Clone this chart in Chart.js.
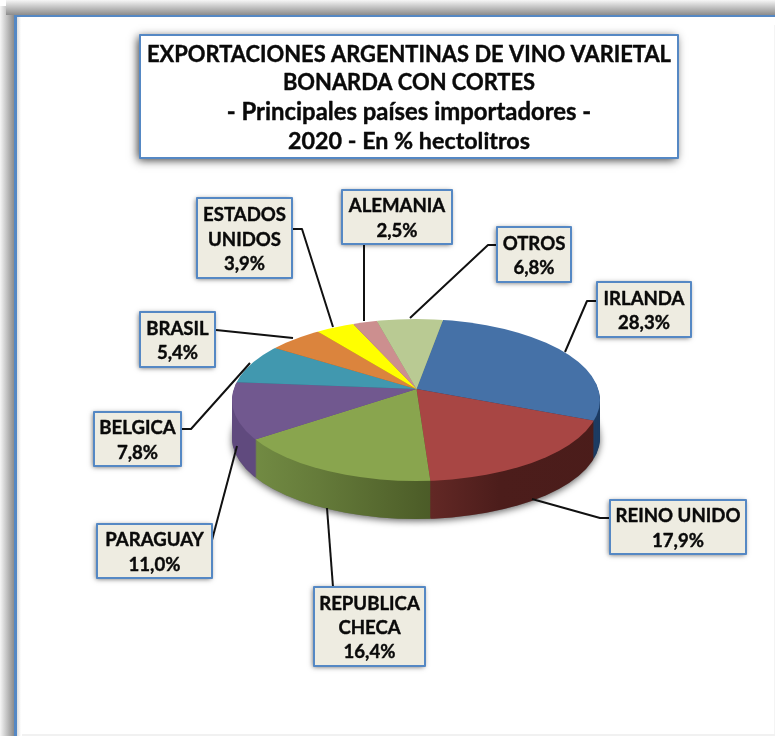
<!DOCTYPE html>
<html lang="es">
<head>
<meta charset="utf-8">
<title>Exportaciones argentinas de vino varietal Bonarda con cortes</title>
<script src="https://cdn.jsdelivr.net/npm/chart.js@4"></script>
<style>html,body{margin:0;padding:0;background:#fff}canvas{display:block}</style>
</head>
<body>
<canvas id="c" width="775" height="736"></canvas>
<script>
const titleLines = ['EXPORTACIONES ARGENTINAS DE VINO VARIETAL', 'BONARDA CON CORTES', '- Principales países importadores -', '2020 - En % hectolitros'];
const categories = ['IRLANDA', 'REINO UNIDO', 'REPUBLICA CHECA', 'PARAGUAY', 'BELGICA', 'BRASIL', 'ESTADOS UNIDOS', 'ALEMANIA', 'OTROS'];
const categoryLines = [['IRLANDA'], ['REINO UNIDO'], ['REPUBLICA', 'CHECA'], ['PARAGUAY'], ['BELGICA'], ['BRASIL'], ['ESTADOS', 'UNIDOS'], ['ALEMANIA'], ['OTROS']];
const values = [28.3, 17.9, 16.4, 11.0, 7.8, 5.4, 3.9, 2.5, 6.8];
const colors = ['#4571A7', '#A84644', '#89A54E', '#71588F', '#4198AF', '#DB843D', '#FFFF00', '#CC8F8F', '#B9CA93'];

// Layout of the drawing (separate from the data)
// Apex of the wedges sits above the centre of the rim ellipse, as in a perspective view.
const PIE = { apexX: 416.5, apexY: 389, rimX: 416, rimY: 400, rx: 184, ry: 81, tilt: 0.45, over: 1.3, depth: 38 };
const BLUE = '#5588C4';
const FONT = 'Lato, "Open Sans", sans-serif';
const titleBox = { x: 140, y: 35, w: 538, h: 123, lineYs: [55, 83, 112, 141], sizes: [21.9, 21.9, 23.9, 23.3] };
const labelBoxes = [
  { x: 597, y: 282, w: 94, h: 55, line: [[597, 301], [587, 301], [565, 352]] },
  { x: 610, y: 500, w: 136, h: 54, line: [[610, 518], [600, 518], [532, 499]] },
  { x: 314, y: 587, w: 111, h: 79, line: [[333, 587], [327, 508]] },
  { x: 97, y: 524, w: 115, h: 54, line: [[212, 540], [237, 446]] },
  { x: 94, y: 412, w: 87, h: 54, line: [[181, 429], [191, 429], [250, 363]] },
  { x: 140, y: 312, w: 75, h: 55, line: [[216, 330], [293, 338]] },
  { x: 197, y: 198, w: 95, h: 80, line: [[293, 229], [302, 229], [333, 327]] },
  { x: 342, y: 190, w: 110, h: 54, line: [[364, 245], [364, 321]] },
  { x: 497, y: 227, w: 74, h: 55, line: [[497, 245], [488, 245], [410, 318]] }
];

function wallFills(ctx) {
  const g = (x0, x1, stops) => {
    const gr = ctx.createLinearGradient(x0, 0, x1, 0);
    stops.forEach(s => gr.addColorStop(s[0], s[1]));
    return gr;
  };
  return [
    '#1F3D63',
    g(428, 600, [[0, '#622825'], [0.3, '#4C1D1B'], [1, '#4A1C1A']]),
    g(253, 428, [[0, '#7C974A'], [0.5, '#657B3A'], [1, '#4B5B27']]),
    g(232, 255, [[0, '#5A4675'], [1, '#604A7E']]),
    '#2F6F80', '#9E5F2B', '#A0A000', '#8F6464', '#86926A'
  ];
}

function paintPie(ctx, arcs, dy, fills) {
  ctx.save();
  ctx.beginPath();
  ctx.ellipse(PIE.rimX, PIE.rimY + dy, PIE.rx, PIE.ry, 0, 0, Math.PI * 2);
  ctx.clip();
  arcs.forEach((arc, i) => {
    const saved = arc.options;
    arc.options = Object.assign({}, saved, { backgroundColor: fills[i] });
    ctx.save();
    ctx.translate(PIE.apexX, PIE.apexY + dy);
    ctx.scale(PIE.over, PIE.over * PIE.tilt);
    ctx.translate(-arc.x, -arc.y);
    arc.draw(ctx);
    ctx.restore();
    arc.options = saved;
  });
  ctx.restore();
}

function drawText(ctx, t, x, y) {
  ctx.fillText(t, x, y);
  ctx.strokeText(t, x, y);
}

const pie3d = {
  id: 'pie3d',
  beforeDraw(chart) {
    const ctx = chart.ctx;
    ctx.save();
    ctx.fillStyle = '#fff';
    ctx.fillRect(0, 0, 775, 736);
    // Frame with soft outer shadow on the top and left
    let gr = ctx.createLinearGradient(0, 0, 14, 0);
    gr.addColorStop(0, '#F6F6F6'); gr.addColorStop(1, '#8C8C8C');
    ctx.fillStyle = gr; ctx.fillRect(0, 6, 14, 730);
    gr = ctx.createLinearGradient(0, 0, 0, 15);
    gr.addColorStop(0, '#F6F6F6'); gr.addColorStop(1, '#8C8C8C');
    ctx.fillStyle = gr; ctx.fillRect(6, 0, 769, 15);
    ctx.fillStyle = BLUE;
    ctx.fillRect(14, 15, 761, 2);
    ctx.fillRect(14, 15, 3, 721);
    gr = ctx.createLinearGradient(17, 0, 21, 0);
    gr.addColorStop(0, '#DDDDDD'); gr.addColorStop(1, '#FFFFFF');
    ctx.fillStyle = gr; ctx.fillRect(17, 17, 4, 719);
    ctx.fillStyle = '#F1F1F1';
    ctx.fillRect(22, 734, 753, 2);
    ctx.fillStyle = '#F4F4F4';
    ctx.fillRect(774, 25, 1, 709);
    ctx.restore();
  },
  beforeDatasetDraw(chart, args) {
    const ctx = chart.ctx;
    const arcs = chart.getDatasetMeta(args.index).data;
    // Soft shadow under the disc
    ctx.save();
    ctx.beginPath();
    ctx.rect(0, PIE.rimY + 12, 775, 300);
    ctx.clip();
    ctx.shadowColor = 'rgba(0,0,0,0.6)';
    ctx.shadowBlur = 7;
    ctx.shadowOffsetY = 2;
    ctx.fillStyle = '#777';
    ctx.beginPath();
    ctx.ellipse(PIE.rimX, PIE.rimY + PIE.depth, PIE.rx, PIE.ry, 0, 0, Math.PI * 2);
    ctx.fill();
    ctx.restore();
    // Side wall, then the top face
    const walls = wallFills(ctx);
    for (let d = PIE.depth; d >= 1; d--) paintPie(ctx, arcs, d, walls);
    paintPie(ctx, arcs, 0, colors);
    return false;
  },
  afterDraw(chart) {
    const ctx = chart.ctx;
    ctx.save();
    // Leader lines
    ctx.strokeStyle = '#111';
    ctx.lineWidth = 2;
    ctx.lineJoin = 'round';
    labelBoxes.forEach(b => {
      ctx.beginPath();
      b.line.forEach((p, i) => i ? ctx.lineTo(p[0], p[1]) : ctx.moveTo(p[0], p[1]));
      ctx.stroke();
    });
    // Title box
    box(ctx, titleBox, '#fff', 9, 0.8, 2);
    ctx.fillStyle = '#0A0A0A';
    ctx.strokeStyle = '#0A0A0A';
    ctx.lineWidth = 0.4;
    ctx.textAlign = 'center';
    ctx.textBaseline = 'middle';
    titleLines.forEach((t, i) => {
      ctx.font = 'bold ' + titleBox.sizes[i] + 'px ' + FONT;
      drawText(ctx, t, titleBox.x + titleBox.w / 2, titleBox.lineYs[i]);
    });
    // Data labels
    labelBoxes.forEach((b, i) => {
      box(ctx, b, '#EEECE1', 5, 0.6, 1);
      const lines = categoryLines[i].concat(values[i].toFixed(1).replace('.', ',') + '%');
      ctx.fillStyle = '#0A0A0A';
      ctx.strokeStyle = '#0A0A0A';
      ctx.lineWidth = 0.4;
      ctx.font = 'bold 18.6px ' + FONT;
      const step = 24.4;
      const y0 = b.y + b.h / 2 - (lines.length - 1) * step / 2 + 1.5;
      lines.forEach((t, k) => drawText(ctx, t, b.x + b.w / 2, y0 + k * step));
    });
    ctx.restore();
  }
};

function box(ctx, b, fill, blur, alpha, off) {
  ctx.save();
  ctx.shadowColor = 'rgba(0,0,0,' + alpha + ')';
  ctx.shadowBlur = blur;
  ctx.shadowOffsetX = -off;
  ctx.shadowOffsetY = off;
  ctx.fillStyle = fill;
  ctx.fillRect(b.x, b.y, b.w, b.h);
  ctx.restore();
  ctx.strokeStyle = BLUE;
  ctx.lineWidth = 2;
  ctx.strokeRect(b.x, b.y, b.w, b.h);
}

new Chart(document.getElementById('c'), {
  type: 'pie',
  data: {
    labels: categories,
    datasets: [{ data: values, backgroundColor: colors, borderWidth: 0 }]
  },
  options: {
    responsive: false,
    animation: false,
    events: [],
    rotation: 9.8,
    layout: { padding: { left: 232, right: 175, top: 205, bottom: 163 } },
    plugins: { legend: { display: false }, tooltip: { enabled: false }, title: { display: false } }
  },
  plugins: [pie3d]
});
</script>
</body>
</html>
